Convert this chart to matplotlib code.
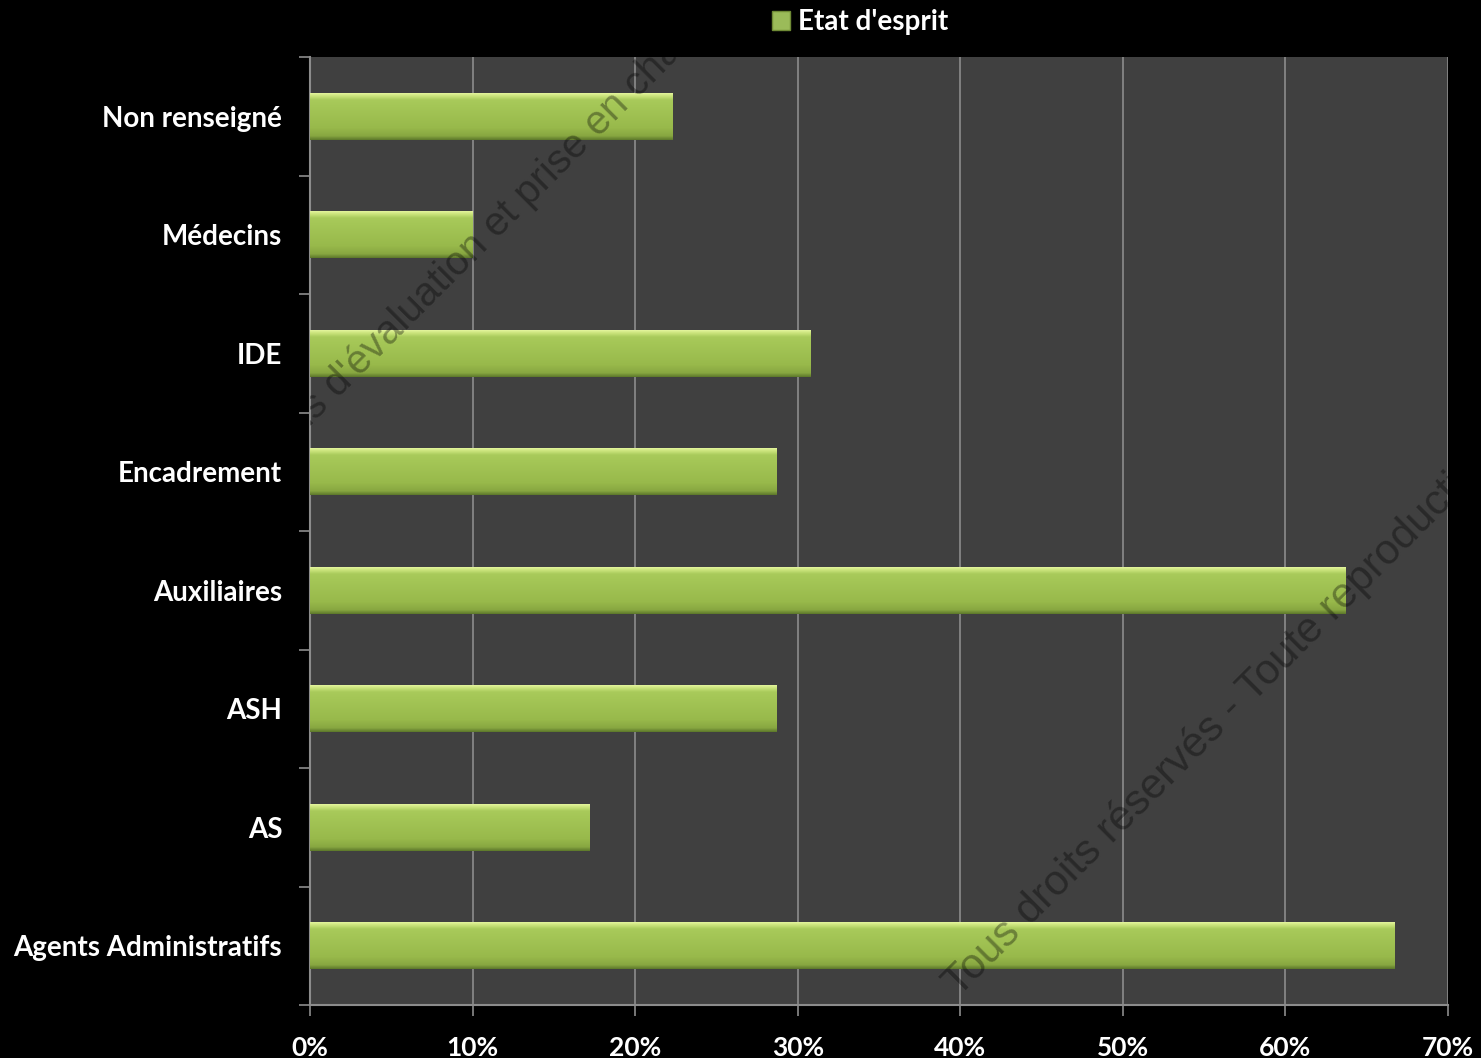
import numpy as np
import matplotlib
matplotlib.use("Agg")
import matplotlib.pyplot as plt
from matplotlib.colors import LinearSegmentedColormap
from matplotlib.patches import Patch
from matplotlib.ticker import FixedLocator, PercentFormatter

categories = ['Non renseigné', 'Médecins', 'IDE', 'Encadrement',
              'Auxiliaires', 'ASH', 'AS', 'Agents Administratifs']
values = [22.3, 10.0, 30.8, 28.7, 63.7, 28.7, 17.2, 66.7]
series_name = "Etat d'esprit"
watermark_1 = "Outils d'évaluation et prise en charge"
watermark_2 = "Tous droits réservés - Toute reproduction interdite"

plt.rcParams['font.family'] = ['Lato', 'DejaVu Sans']

fig = plt.figure(figsize=(14.81, 10.58), dpi=100, facecolor='black')
ax = fig.add_axes([310 / 1481, 1 - 1005 / 1058, 1138 / 1481, 948 / 1058])
ax.set_facecolor('#404040')

ypos = np.arange(len(categories))
bar_h = 0.4
bars = ax.barh(ypos, values, height=bar_h, color='#9bbb59', edgecolor='none', zorder=3)

# gradient fill like the office 3d bars
cmap = LinearSegmentedColormap.from_list('bar', [
    (0.0, '#eaf9a6'), (0.07, '#cde57e'), (0.16, '#a8ca5a'),
    (0.75, '#98b94b'), (0.92, '#88a741'), (1.0, '#5f7a2c')])
grad = np.linspace(0, 1, 64).reshape(-1, 1)
for b, y, v in zip(bars, ypos, values):
    im = ax.imshow(grad, cmap=cmap, aspect='auto', origin='upper',
                   extent=(0, v, y + bar_h / 2, y - bar_h / 2), zorder=4)
    im.set_clip_path(b)

ax.set_xlim(0, 70)
ax.set_ylim(len(categories) - 0.5, -0.5)

ax.xaxis.set_major_locator(FixedLocator(np.arange(0, 71, 10)))
ax.xaxis.set_major_formatter(PercentFormatter(decimals=0))
ax.grid(axis='x', color='#8c8c8c', linewidth=1.2, zorder=1)

# category boundaries get the tick marks, labels sit in the middle
ax.yaxis.set_major_locator(FixedLocator(np.arange(-0.5, len(categories), 1)))
ax.yaxis.set_major_formatter(plt.NullFormatter())
ax.yaxis.set_minor_locator(FixedLocator(ypos))
ax.set_yticklabels(categories, minor=True)
ax.tick_params(axis='y', which='major', length=8, width=1.2, color='#8c8c8c')
ax.tick_params(axis='y', which='minor', length=0, pad=20)
ax.tick_params(axis='x', length=8, width=1.2, color='#8c8c8c', pad=14)

for lab in ax.get_yticklabels(minor=True):
    lab.set_color('white')
    lab.set_fontweight('bold')
    lab.set_fontsize(20)
for lab in ax.get_xticklabels():
    lab.set_color('white')
    lab.set_fontweight('bold')
    lab.set_fontsize(19)

for side in ['top', 'right']:
    ax.spines[side].set_visible(False)
for side in ['left', 'bottom']:
    ax.spines[side].set_color('#8c8c8c')
    ax.spines[side].set_linewidth(1.5)

# watermarks
ax.text(-0.046, 0.554, watermark_1, transform=ax.transAxes, rotation=45,
        rotation_mode='anchor', ha='left', va='baseline', fontsize=29,
        family='Liberation Sans', color='black', alpha=0.35, zorder=6, clip_on=True)
ax.text(0.570, 0.008, watermark_2, transform=ax.transAxes, rotation=45,
        rotation_mode='anchor', ha='left', va='baseline', fontsize=30.5,
        family='Liberation Sans', color='black', alpha=0.35, zorder=6, clip_on=True)

leg = fig.legend(handles=[Patch(facecolor='#9bbb59', edgecolor='#6f8a35', label=series_name)],
                 loc='center', bbox_to_anchor=(860 / 1481, 1 - 22 / 1058), frameon=False,
                 handlelength=0.65, handleheight=0.65, handletextpad=0.3,
                 prop={'weight': 'bold', 'size': 20})
for t in leg.get_texts():
    t.set_color('white')

fig.savefig('out.png', dpi=100, facecolor='black')
